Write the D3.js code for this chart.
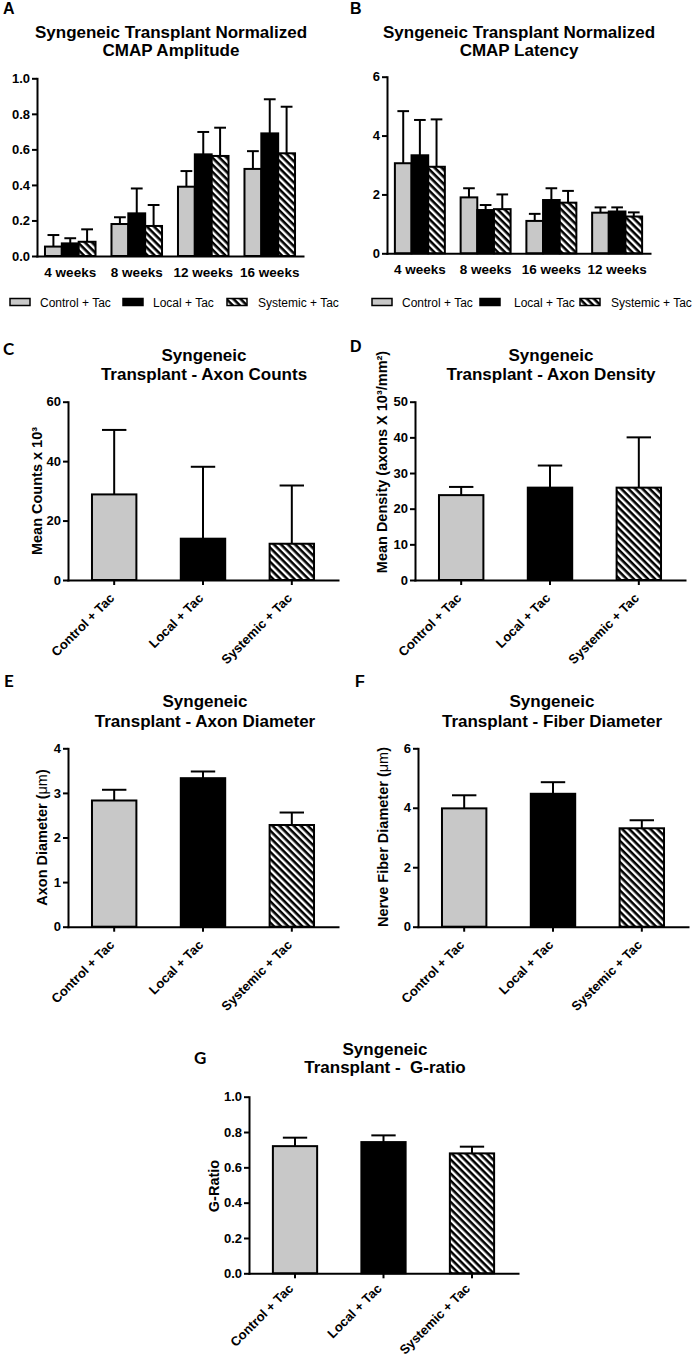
<!DOCTYPE html>
<html><head><meta charset="utf-8">
<script src="https://cdn.jsdelivr.net/npm/d3@7"></script>
<style>
body{margin:0;background:#fff;}
svg{display:block;}
</style></head><body>
<script>
// ---------------- data ----------------
const seriesNames = ["Control + Tac", "Local + Tac", "Systemic + Tac"];

// A: normalized CMAP amplitude
const ampWeeks = ["4 weeks", "8 weeks", "12 weeks", "16 weeks"];
const ampControl = [0.053, 0.18, 0.39, 0.49];
const ampControlErr = [0.065, 0.038, 0.088, 0.10];
const ampLocal = [0.071, 0.24, 0.572, 0.69];
const ampLocalErr = [0.029, 0.14, 0.126, 0.192];
const ampSystemic = [0.08, 0.169, 0.563, 0.578];
const ampSystemicErr = [0.07, 0.118, 0.159, 0.262];
const ampTicks = [0, 0.2, 0.4, 0.6, 0.8, 1.0];

// B: normalized CMAP latency
const latWeeks = ["4 weeks", "8 weeks", "16 weeks", "12 weeks"];
const latControl = [3.06, 1.90, 1.10, 1.38];
const latControlErr = [1.77, 0.31, 0.24, 0.18];
const latLocal = [3.33, 1.47, 1.81, 1.42];
const latLocalErr = [1.20, 0.17, 0.40, 0.14];
const latSystemic = [2.94, 1.50, 1.72, 1.25];
const latSystemicErr = [1.61, 0.50, 0.40, 0.14];
const latTicks = [0, 2, 4, 6];

// C: axon counts
const countMeans = [28.8, 13.9, 12.2];
const countErr = [21.7, 24.2, 19.6];
const countTicks = [0, 20, 40, 60];

// D: axon density
const densityMeans = [23.8, 25.9, 25.9];
const densityErr = [2.3, 6.2, 14.1];
const densityTicks = [0, 10, 20, 30, 40, 50];

// E: axon diameter
const axonDiamMeans = [2.83, 3.33, 2.28];
const axonDiamErr = [0.24, 0.15, 0.28];
const axonDiamTicks = [0, 1, 2, 3, 4];

// F: fiber diameter
const fiberDiamMeans = [3.98, 4.47, 3.31];
const fiberDiamErr = [0.44, 0.39, 0.27];
const fiberDiamTicks = [0, 2, 4, 6];

// G: g-ratio
const gRatioMeans = [0.72, 0.743, 0.679];
const gRatioErr = [0.048, 0.038, 0.038];
const gRatioTicks = [0, 0.2, 0.4, 0.6, 0.8, 1.0];

// ---------------- drawing ----------------
const FONT = '"Liberation Sans", Arial, Helvetica, sans-serif';
const FONT_LETTER2 = 'Lato, "Open Sans", sans-serif';
const fills = ["#c8c8c8", "#000000", "url(#hatch)"];

const svg = d3.select("body").append("svg")
  .attr("width", 697).attr("height", 1358)
  .style("font-family", FONT);
svg.append("rect").attr("width", 697).attr("height", 1358).attr("fill", "#fff");

const pat = svg.append("defs").append("pattern")
  .attr("id", "hatch").attr("patternUnits", "userSpaceOnUse")
  .attr("width", 5).attr("height", 5)
  .attr("patternTransform", "rotate(45)");
pat.append("rect").attr("width", 5).attr("height", 5).attr("fill", "#fff");
pat.append("rect").attr("width", 5).attr("height", 2.6).attr("fill", "#000");

function styleAxis(g, fs) {
  g.select(".domain").attr("stroke", "#000").attr("stroke-width", 2).attr("stroke-linecap", "square");
  g.selectAll(".tick line").attr("stroke", "#000").attr("stroke-width", 2);
  g.selectAll(".tick text").attr("fill", "#000").attr("font-size", fs || 13)
    .attr("font-weight", "bold").attr("font-family", FONT);
}

function title(lines, cx, baselines) {
  const t = svg.append("text").attr("text-anchor", "middle")
    .attr("font-size", 17).attr("font-weight", "bold").attr("fill", "#000")
    .style("white-space", "pre");
  lines.forEach((l, i) => t.append("tspan").attr("x", cx).attr("y", baselines[i]).text(l));
}

function letter(ch, x, y, font) {
  svg.append("text").attr("x", x).attr("y", y).attr("font-size", font ? 17 : 16)
    .attr("font-weight", "bold").attr("font-family", font || FONT).text(ch);
}

function yLabel(parts, bx, cy) {
  const t = svg.append("text").attr("text-anchor", "middle")
    .attr("transform", `translate(${bx},${cy}) rotate(-90)`)
    .attr("font-size", 14.5).attr("font-weight", "bold");
  parts.forEach(p => t.append("tspan").attr("font-weight", p.w || "bold").text(p.t));
}

function yAxis(y, x, ticks, fmt) {
  const g = svg.append("g").attr("transform", `translate(${x},0)`)
    .call(d3.axisLeft(y).tickValues(ticks).tickFormat(fmt).tickSize(5).tickPadding(2).tickSizeOuter(0));
  styleAxis(g);
}

function errorBars(data, capW) {
  const g = svg.append("g").attr("stroke", "#000").attr("stroke-width", 2);
  data.forEach(d => {
    g.append("line").attr("x1", d.cx).attr("x2", d.cx).attr("y1", d.yv).attr("y2", d.ye);
    g.append("line").attr("x1", d.cx - capW / 2).attr("x2", d.cx + capW / 2).attr("y1", d.ye).attr("y2", d.ye);
  });
}

function groupedPanel(o) {
  const y = d3.scaleLinear().domain([0, o.ymax]).range([o.y0, o.ytop]);
  const x0 = d3.scaleBand().domain(o.groups).range([o.xL, o.xR]).paddingInner(0.24).paddingOuter(0.12);
  const x1 = d3.scaleBand().domain(d3.range(o.series.length)).range([0, x0.bandwidth()]);
  const rows = [];
  o.groups.forEach((g, i) => o.series.forEach((s, j) => rows.push({ g, j, v: s.vals[i], e: s.errs[i] })));
  const eb = rows.map(r => ({ cx: x0(r.g) + x1(r.j) + x1.bandwidth() / 2, yv: y(r.v), ye: y(r.v + r.e) }));
  errorBars(eb, x1.bandwidth() * 0.7);
  svg.append("g").selectAll("rect").data(rows).join("rect")
    .attr("x", r => x0(r.g) + x1(r.j)).attr("width", x1.bandwidth())
    .attr("y", r => y(r.v)).attr("height", r => y(0) - y(r.v))
    .attr("fill", r => fills[r.j]).attr("stroke", "#000").attr("stroke-width", 2);
  yAxis(y, o.xL, o.ticks, o.fmt);
  const gx = svg.append("g").attr("transform", `translate(0,${o.y0})`)
    .call(d3.axisBottom(x0).tickSize(0).tickPadding(9).tickSizeOuter(0));
  styleAxis(gx, 13.5);
  gx.selectAll(".tick text").attr("dy", "0.9em");
  // legend
  seriesNames.forEach((n, j) => {
    svg.append("rect").attr("x", o.legX[j]).attr("y", o.legY - 3.5).attr("width", 20).attr("height", 7)
      .attr("fill", fills[j]).attr("stroke", "#000").attr("stroke-width", 1.5);
    svg.append("text").attr("x", o.legTX[j]).attr("y", o.legY + 4.5).attr("font-size", 12).text(n);
  });
}

function simplePanel(o) {
  const y = d3.scaleLinear().domain([0, o.ymax]).range([o.y0, o.ytop]);
  const x = d3.scaleBand().domain(seriesNames).range([o.xL, o.xR]).paddingInner(0.5).paddingOuter(0.27);
  const rows = seriesNames.map((n, j) => ({ n, j, v: o.vals[j], e: o.errs[j] }));
  const eb = rows.map(r => ({ cx: x(r.n) + x.bandwidth() / 2, yv: y(r.v), ye: y(r.v + r.e) }));
  errorBars(eb, x.bandwidth() * 0.55);
  svg.append("g").selectAll("rect").data(rows).join("rect")
    .attr("x", r => x(r.n)).attr("width", x.bandwidth())
    .attr("y", r => y(r.v)).attr("height", r => y(0) - y(r.v))
    .attr("fill", r => fills[r.j]).attr("stroke", "#000").attr("stroke-width", 2);
  yAxis(y, o.xL, o.ticks, o.fmt);
  const gx = svg.append("g").attr("transform", `translate(0,${o.y0})`)
    .call(d3.axisBottom(x).tickSize(5).tickSizeOuter(0));
  styleAxis(gx, 13);
  gx.selectAll(".tick text").attr("text-anchor", "end")
    .attr("x", 0).attr("y", 0).attr("dy", 0)
    .attr("transform", `translate(${o.lx || 1},${o.ly || 19}) rotate(-45)`);
}

const f1 = d3.format(".1f"), f0 = d3.format("d");

// Panel A
letter("A", 3, 14);
title(["Syngeneic Transplant Normalized", "CMAP Amplitude"], 171, [38, 56]);
groupedPanel({
  groups: ampWeeks, ymax: 1.0, y0: 256, ytop: 78.3, xL: 37, xR: 303, ticks: ampTicks, fmt: f1,
  series: [{ vals: ampControl, errs: ampControlErr }, { vals: ampLocal, errs: ampLocalErr }, { vals: ampSystemic, errs: ampSystemicErr }],
  legY: 302, legX: [10, 123, 227], legTX: [40, 153, 258]
});

// Panel B
letter("B", 350, 14);
title(["Syngeneic Transplant Normalized", "CMAP Latency"], 519, [38, 56]);
groupedPanel({
  groups: latWeeks, ymax: 6, y0: 253.3, ytop: 76.7, xL: 387, xR: 650, ticks: latTicks, fmt: f0,
  series: [{ vals: latControl, errs: latControlErr }, { vals: latLocal, errs: latLocalErr }, { vals: latSystemic, errs: latSystemicErr }],
  legY: 302, legX: [372, 480, 580], legTX: [402, 514, 611]
});

// Panel C
letter("C", 3, 355, FONT_LETTER2);
title(["Syngeneic", "Transplant - Axon Counts"], 204, [361, 380]);
simplePanel({ vals: countMeans, errs: countErr, ymax: 60, y0: 580, ytop: 401.7, xL: 68, xR: 338, ticks: countTicks, fmt: f0 });
yLabel([{ t: "Mean Counts x 10³" }], 41.5, 491);

// Panel D
letter("D", 350, 352);
title(["Syngeneic", "Transplant - Axon Density"], 551, [361, 380]);
simplePanel({ vals: densityMeans, errs: densityErr, ymax: 50, y0: 580, ytop: 401.7, xL: 415, xR: 685, ticks: densityTicks, fmt: f0 });
yLabel([{ t: "Mean Density (axons X 10³/mm²)" }], 387, 462);

// Panel E
letter("E", 4, 687, FONT_LETTER2);
title(["Syngeneic", "Transplant - Axon Diameter"], 205, [707, 727]);
simplePanel({ vals: axonDiamMeans, errs: axonDiamErr, ymax: 4, y0: 926.7, ytop: 748.3, xL: 68, xR: 338, ticks: axonDiamTicks, fmt: f0 });
yLabel([{ t: "Axon Diameter (" }, { t: "μm", w: "normal" }, { t: ")" }], 47, 837.5);

// Panel F
letter("F", 355, 687);
title(["Syngeneic", "Transplant - Fiber Diameter"], 552, [707, 727]);
simplePanel({ vals: fiberDiamMeans, errs: fiberDiamErr, ymax: 6, y0: 926.7, ytop: 748.3, xL: 418, xR: 688, ticks: fiberDiamTicks, fmt: f0 });
yLabel([{ t: "Nerve Fiber Diameter (" }, { t: "μm", w: "normal" }, { t: ")" }], 388, 837);

// Panel G
letter("G", 194, 1064, FONT_LETTER2);
title(["Syngeneic", "Transplant -  G-ratio"], 385, [1055, 1073]);
simplePanel({ vals: gRatioMeans, errs: gRatioErr, ymax: 1.0, y0: 1273.3, ytop: 1096.7, xL: 249, xR: 518, ticks: gRatioTicks, fmt: f1, lx: -1, ly: 16 });
yLabel([{ t: "G-Ratio" }], 219, 1186);
</script>
</body></html>
